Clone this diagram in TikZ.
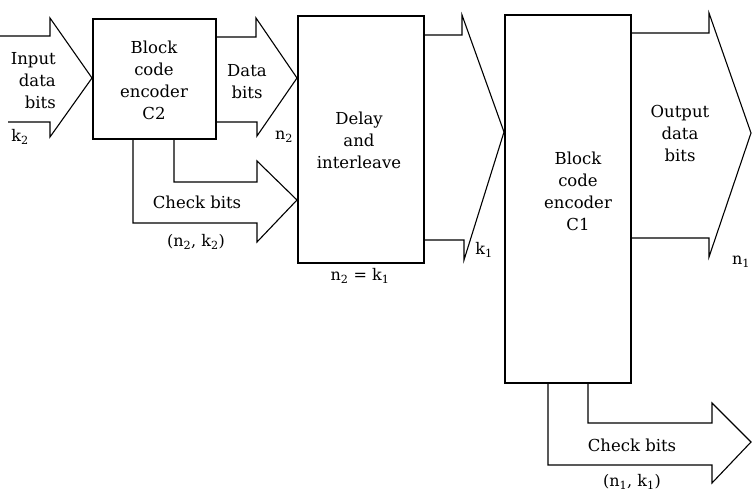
\documentclass[tikz,border=0pt]{standalone}
\usepackage{fontspec}
\setmainfont{DejaVu Serif}
\begin{document}
\begin{tikzpicture}[x=1pt,y=-1pt,
  box/.style={draw, line width=1.8pt, inner sep=0pt, anchor=north west},
  fat/.style={draw, line width=1.1pt, line join=miter},
  lbl/.style={font=\fontsize{16.5}{22}\selectfont, align=center, inner sep=0pt},
  sub/.style={font=\fontsize{16}{18}\selectfont, inner sep=0pt}]
\useasboundingbox (0,0) rectangle (752,492);
% boxes
\node[box, minimum width=123pt, minimum height=120pt] (c2) at (92,18) {};
\node[box, minimum width=126pt, minimum height=247pt] (dl) at (297,15) {};
\node[box, minimum width=126pt, minimum height=368pt] (c1) at (504,14) {};
% input arrow
\coordinate (inA) at (0,36);
\coordinate (inB) at (8,122);
\draw[fat] (inA) -- (50,36) -- (50,18) -- (c2.west |- 0,78) -- (50,137) -- (50,122) -- (inB);
% data bits arrow
\draw[fat] (c2.east |- 0,37) -- (256,37) -- (256,18) -- (dl.west |- 0,78) -- (257,136) -- (257,122) -- (c2.east |- 0,122);
% check bits C2
\draw[fat] (174,0 |- c2.south) -- (174,182) -- (257,182) -- (257,161) -- (dl.west |- 0,200) -- (257,242) -- (257,223) -- (133,223) -- (133,0 |- c2.south);
% delay to C1
\draw[fat] (dl.east |- 0,35) -- (462,35) -- (462,15) -- (c1.west |- 0,132) -- (464,260) -- (464,240) -- (dl.east |- 0,240);
% output arrow
\coordinate (outT) at (751,133);
\draw[fat] (c1.east |- 0,33) -- (709,33) -- (709,13) -- (outT) -- (709,257) -- (709,238) -- (c1.east |- 0,238);
% check bits C1
\coordinate (chT) at (751,442);
\draw[fat] (588,0 |- c1.south) -- (588,423) -- (712,423) -- (712,403) -- (chT) -- (712,483) -- (712,465) -- (548,465) -- (548,0 |- c1.south);
% labels
\node[lbl, align=right, anchor=east] (tin) at (56,81) {Input\\data\\bits};
\node[sub] (tk2) at (20,137) {k\textsubscript{2}};
\node[lbl] (tc2) at (154,80) {Block\\code\\encoder\\C2};
\node[lbl] (tdb) at (247,82) {Data\\bits};
\node[sub] (tn2) at (284,137) {n\textsubscript{2}};
\node[lbl] (tcb2) at (197,202) {Check bits};
\node[sub] (tnk2) at (196,242) {(n\textsubscript{2}, k\textsubscript{2})};
\node[lbl] (tdl) at (359,140) {Delay\\and\\interleave};
\node[sub] (teq) at (360,276) {n\textsubscript{2} = k\textsubscript{1}};
\node[sub] (tk1) at (484,250) {k\textsubscript{1}};
\node[lbl] (tc1) at (578,191) {Block\\code\\encoder\\C1};
\node[lbl] (tout) at (680,133) {Output\\data\\bits};
\node[sub] (tn1) at (741,262) {n\textsubscript{1}};
\node[lbl] (tcb1) at (632,445) {Check bits};
\node[sub] (tnk1) at (632,482) {(n\textsubscript{1}, k\textsubscript{1})};
\end{tikzpicture}
\end{document}
